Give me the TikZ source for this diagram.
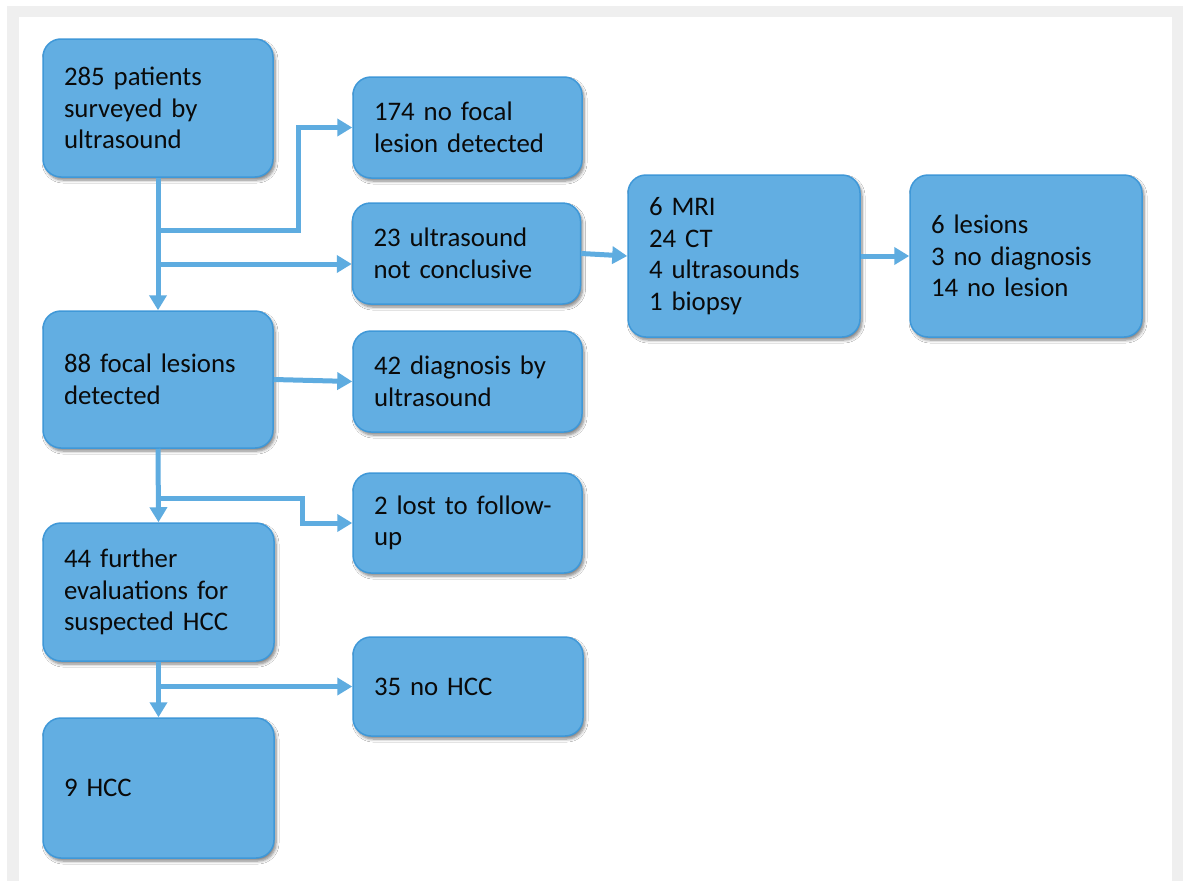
\documentclass[tikz,border=0pt]{standalone}
\usepackage{fontspec}
\setmainfont[WordSpace=0.85]{Carlito}
\usetikzlibrary{arrows.meta,shadows.blur,calc}
\definecolor{boxfill}{HTML}{62AEE2}
\definecolor{boxline}{HTML}{3F98D8}
\definecolor{conncol}{HTML}{5EACE0}
\definecolor{framegrey}{HTML}{EFEFEF}
\definecolor{txt}{HTML}{0A0A0A}
\tikzset{
  flowbox/.style={rectangle, rounded corners=18pt, fill=boxfill, draw=boxline, line width=1.5pt,
    inner xsep=21pt, inner ysep=4pt, align=left, text=txt,
    font=\fontsize{26.8}{31.5}\selectfont,
    blur shadow={shadow xshift=2pt, shadow yshift=-3pt, shadow blur steps=6, shadow blur radius=3pt, shadow opacity=50}},
  conn/.style={draw=conncol, line width=5pt, -{Triangle[length=15pt,width=17pt]}},
  plain/.style={draw=conncol, line width=5pt}
}
\begin{document}
\begin{tikzpicture}[x=1pt,y=-1pt]
\useasboundingbox (0,0) rectangle (1183,881);
\fill[white] (0,0) rectangle (1183,881);
\fill[framegrey] (7,6) rectangle (1183,881);
\fill[white] (19,17) rectangle (1172,881);

\node[flowbox, minimum width=230pt, minimum height=138pt, text width=188pt] (A) at (158,108) {285 patients\\surveyed by\\ultrasound};
\node[flowbox, minimum width=229pt, minimum height=101pt, text width=187pt] (B) at (467.5,127.5) {174 no focal\\lesion detected};
\node[flowbox, minimum width=228pt, minimum height=101pt, text width=186pt] (C) at (466.5,253.5) {23 ultrasound\\not conclusive};
\node[flowbox, minimum width=232pt, minimum height=162pt, text width=190pt] (D) at (744,256) {6 MRI\\24 CT\\4 ultrasounds\\1 biopsy};
\node[flowbox, minimum width=232pt, minimum height=162pt, text width=190pt] (E) at (1026,256) {6 lesions\\3 no diagnosis\\14 no lesion};
\node[flowbox, minimum width=230pt, minimum height=137pt, text width=188pt] (F) at (158,379.5) {88 focal lesions\\detected};
\node[flowbox, minimum width=229pt, minimum height=101pt, text width=187pt] (G) at (467.5,381.5) {42 diagnosis by\\ultrasound};
\node[flowbox, minimum width=229pt, minimum height=100pt, text width=187pt] (H) at (467.5,523) {2 lost to follow-\\up};
\node[flowbox, minimum width=231pt, minimum height=138pt, text width=189pt] (I) at (158.5,592) {44 further\\evaluations for\\suspected HCC};
\node[flowbox, minimum width=230pt, minimum height=99pt, text width=188pt] (J) at (468,686.5) {35 no HCC};
\node[flowbox, minimum width=231pt, minimum height=140pt, text width=189pt] (K) at (158.5,788) {9 HCC};

% connectors
\draw[conn] (A.south) -- (F.north);
\draw[conn] (A.south |- 0,230) -- (298,230) |- (B.west);
\draw[conn] (A.south |- 0,264) -- (C.west |- 0,264);
\draw[conn] (C.east) -- (D.west);
\draw[conn] (D.east) -- (E.west);
\draw[conn] (F.east) -- (G.west);
\draw[conn] (F.south) -- (I.north);
\draw[conn] (F.south |- 0,498) -- (302,498) |- (H.west);
\draw[conn] (I.south) -- (K.north);
\draw[conn] (I.south |- J.west) -- (J.west);
\end{tikzpicture}
\end{document}
